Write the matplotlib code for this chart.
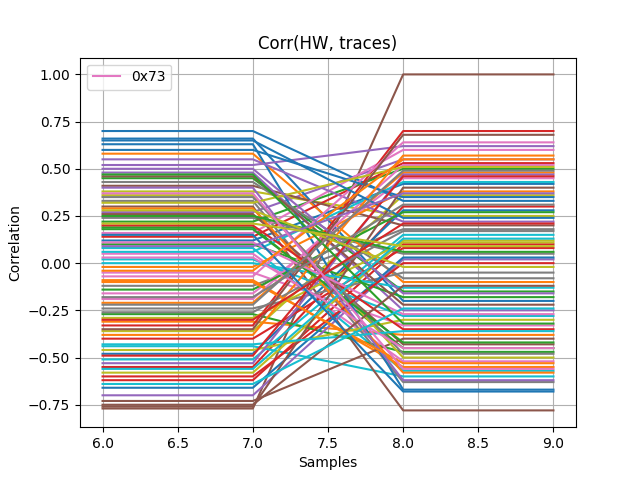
import matplotlib
matplotlib.use("Agg")
import matplotlib.pyplot as plt

samples = [6, 7, 8, 9]
left_vals = [0.12, -0.31, 0.45, -0.55, 0.27, -0.77, 0.05, -0.12, 0.38, -0.44,
             0.66, -0.21, 0.19, -0.62, 0.52, 0.30, -0.05, 0.24, -0.36, 0.08,
             -0.48, 0.58, -0.27, 0.14, -0.70, 0.41, -0.16, 0.33, -0.58, 0.02,
             0.70, -0.09, 0.22, -0.40, 0.48, -0.73, 0.16, -0.24, 0.36, -0.51,
             0.63, -0.02, 0.10, -0.33, 0.55, 0.26, -0.19, 0.43, -0.46, 0.06,
             -0.66, 0.29, -0.14, 0.20, -0.53, 0.46, -0.07, 0.35, -0.29, 0.00,
             0.60, -0.38, 0.18, -0.60, 0.40, -0.76, 0.11, -0.26, 0.32, -0.43,
             0.65, -0.10, 0.25, -0.49, 0.50, -0.35, 0.03, -0.18, 0.28, -0.56,
             0.15, -0.04, 0.47, -0.30, 0.09, -0.75, 0.37, -0.22, 0.21, -0.64]
right_vals = [0.42, -0.38, -0.15, 0.30, 0.55, 1.00, -0.52, 0.18, 0.25, -0.60,
              -0.20, 0.48, -0.45, 0.10, 0.62, -0.78, -0.33, 0.05, 0.36, -0.57,
              0.28, -0.10, -0.47, 0.53, 0.02, 0.20, 0.45, -0.63, 0.12, -0.28,
              0.33, -0.55, 0.50, 0.08, -0.25, -0.40, 0.60, -0.05, -0.50, 0.15,
              -0.67, 0.38, -0.18, 0.70, 0.22, -0.43, 0.52, -0.08, -0.30, 0.43,
              0.03, -0.58, 0.27, -0.35, 0.47, -0.22, 0.64, -0.48, 0.11, -0.13,
              0.35, 0.57, -0.42, 0.00, -0.62, 0.40, -0.27, 0.17, 0.51, -0.36,
              0.24, -0.53, 0.06, 0.46, -0.16, 0.68, -0.45, 0.31, -0.02, 0.13,
              -0.68, 0.55, -0.32, 0.21, 0.37, -0.12, -0.56, 0.49, 0.09, -0.24]
legend_label = "0x73"

fig, ax = plt.subplots(figsize=(6.4, 4.8), dpi=100)
for a, b in zip(left_vals, right_vals):
    ax.plot(samples, [a, a, b, b])
ax.plot([], [], color="#e377c2", label=legend_label)
ax.set_title("Corr(HW, traces)")
ax.set_xlabel("Samples")
ax.set_ylabel("Correlation")
ax.grid(True)
ax.legend(loc="upper left")
fig.savefig("out.png")
